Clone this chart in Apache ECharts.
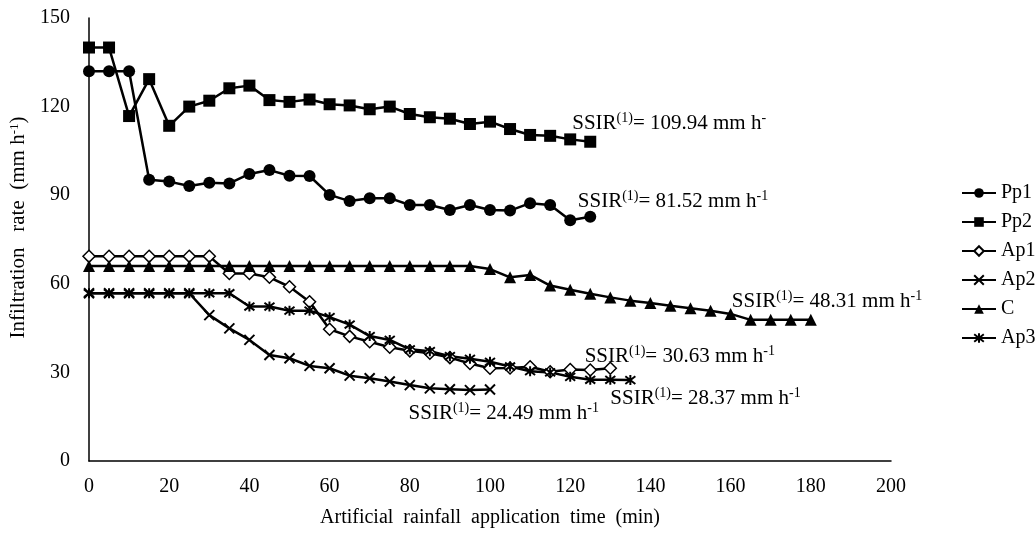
<!DOCTYPE html>
<html>
<head>
<meta charset="utf-8">
<title>Infiltration rate</title>
<script src="https://cdn.jsdelivr.net/npm/echarts@6/dist/echarts.min.js"></script>
<style>
  html, body { margin: 0; padding: 0; background: #fff; }
  #chart { width: 1035px; height: 533px; }
</style>
</head>
<body>
<div id="chart"></div>
<script>
// x values (min), shared by every series
const minutes = [0, 5, 10, 15, 20, 25, 30, 35, 40, 45, 50, 55, 60, 65, 70, 75, 80, 85, 90, 95,
  100, 105, 110, 115, 120, 125, 130, 135, 140, 145, 150, 155, 160, 165, 170, 175, 180];

// infiltration rate (mm h-1)
const pp1 = [132, 132, 132, 95.2, 94.6, 93.1, 94.2, 94, 97.2, 98.5, 96.6, 96.5, 90.1, 88, 89, 89,
  86.7, 86.7, 85, 86.7, 85, 84.8, 87.3, 86.7, 81.5, 82.7];
const pp2 = [140, 140, 116.8, 129.3, 113.5, 120, 122, 126.2, 127.1, 122.2, 121.6, 122.4, 120.8, 120.4,
  119.1, 120, 117.5, 116.4, 115.9, 114.1, 114.9, 112.4, 110.4, 110.1, 108.9, 108.1];
const ap1 = [69.3, 69.3, 69.3, 69.3, 69.3, 69.3, 69.3, 63.5, 63.5, 62.2, 59, 53.9, 44.6, 42.2, 40.4,
  38.5, 37.3, 36.5, 35, 33, 31.4, 31.5, 31.9, 30.2, 31, 30.8, 31.4];
const ap2 = [56.8, 56.8, 56.8, 56.8, 56.8, 56.8, 49.4, 44.9, 41, 35.9, 34.8, 32.2, 31.4, 28.9, 28,
  26.9, 25.7, 24.6, 24.3, 24, 24.2];
const ctrl = [66, 66, 66, 66, 66, 66, 66, 66, 66, 66, 66, 66, 66, 66, 66, 66, 66, 66, 66, 66,
  65, 62.2, 63, 59.4, 58, 56.6, 55.4, 54.3, 53.5, 52.6, 51.7, 50.9, 49.8, 47.8, 47.8, 47.8, 47.8];
const ap3 = [56.8, 56.8, 56.8, 56.8, 56.8, 56.8, 56.8, 56.8, 52.3, 52.3, 50.9, 50.9, 48.7, 46.2, 42.3,
  41, 37.8, 37.2, 35.5, 34.6, 33.6, 32, 30.4, 30, 28.5, 27.5, 27.5, 27.4];

const seriesNames = ["Pp1", "Pp2", "Ap1", "Ap2", "C", "Ap3"];
// steady state infiltration rate of each treatment
const ssir = ["81.52", "109.94", "30.63", "24.49", "48.31", "28.37"];

const xTicks = [0, 200, 20];
const yTicks = [0, 150, 30];

const FONT = "Liberation Serif";

function pairs(vals) {
  return vals.map((v, i) => [minutes[i], v]);
}

const richText = {
  b: { fontFamily: FONT, fontSize: 21, color: "#000", lineHeight: 24 },
  s: { fontFamily: FONT, fontSize: 14, color: "#000", verticalAlign: "top", lineHeight: 24, padding: [0, 0, 8, 0] }
};

// text next to each curve, anchored in data coordinates
function ssirMark(idx, at, tail) {
  return {
    symbol: "circle",
    symbolSize: 0,
    silent: true,
    label: {
      show: true,
      position: "right",
      distance: 0,
      formatter: "{b|SSIR}{s|(1)}{b|= " + ssir[idx] + " mm h}{s|" + tail + "}",
      rich: richText
    },
    data: [{ coord: at }]
  };
}

const X_PATH = "path://M0,0L10,10M10,0L0,10";
const STAR_PATH = "path://M0,0L10,10M10,0L0,10M5,-1.5L5,11.5";

function line(idx, vals, symbol, size, mark, hollow) {
  return {
    name: seriesNames[idx],
    type: "line",
    data: pairs(vals),
    symbol: symbol,
    symbolSize: size,
    showAllSymbol: true,
    lineStyle: { color: "#000", width: 2.5 },
    itemStyle: hollow
      ? { color: "#fff", borderColor: "#000", borderWidth: 1.5 }
      : { color: "#000", borderColor: "#000", borderWidth: symbol.indexOf("path") === 0 ? 2 : 0 },
    markPoint: mark,
    z: 2
  };
}

let myChart = echarts.init(document.getElementById("chart"));
let option = {
  animation: false,
  backgroundColor: "#fff",
  grid: { left: 89, right: 144, top: 18, bottom: 72, containLabel: false },
  legend: {
    orient: "vertical",
    left: 956,
    top: 178,
    itemWidth: 34,
    itemHeight: 12,
    itemGap: 9,
    textStyle: { fontFamily: FONT, fontSize: 20, color: "#000" },
    data: seriesNames
  },
  xAxis: {
    type: "value",
    min: xTicks[0],
    max: xTicks[1],
    interval: xTicks[2],
    name: "Artificial  rainfall  application  time  (min)",
    nameLocation: "middle",
    nameGap: 47,
    nameTextStyle: { fontFamily: FONT, fontSize: 20, color: "#000" },
    axisLine: { lineStyle: { color: "#000", width: 1.5 } },
    axisTick: { show: false },
    splitLine: { show: false },
    axisLabel: { fontFamily: FONT, fontSize: 20, color: "#000", margin: 16 }
  },
  yAxis: {
    type: "value",
    min: yTicks[0],
    max: yTicks[1],
    interval: yTicks[2],
    name: "Infiltration   rate  (mm h{s|-1})",
    nameLocation: "middle",
    nameGap: 58,
    nameRotate: 90,
    nameTextStyle: {
      fontFamily: FONT,
      fontSize: 21,
      color: "#000",
      padding: [0, 0, 0, 24],
      rich: {
        s: { fontFamily: FONT, fontSize: 13, color: "#000", verticalAlign: "top", padding: [0, 0, 8, 0] }
      }
    },
    axisLine: { show: true, lineStyle: { color: "#000", width: 1.5 } },
    axisTick: { show: false },
    splitLine: { show: false },
    axisLabel: { fontFamily: FONT, fontSize: 20, color: "#000", margin: 19 }
  },
  series: [
    line(0, pp1, "circle", 12, ssirMark(0, [121.9, 88], "-1")),
    line(1, pp2, "rect", 12, ssirMark(1, [120.5, 114.4], "-")),
    line(2, ap1, "diamond", 12, ssirMark(2, [123.6, 35.4], "-1"), true),
    line(3, ap2, X_PATH, 10, ssirMark(3, [79.7, 16.1], "-1")),
    line(4, ctrl, "triangle", 12, ssirMark(4, [160.3, 54.1], "-1")),
    line(5, ap3, STAR_PATH, 10, ssirMark(5, [130, 21.2], "-1"))
  ]
};
myChart.setOption(option);
</script>
</body>
</html>
